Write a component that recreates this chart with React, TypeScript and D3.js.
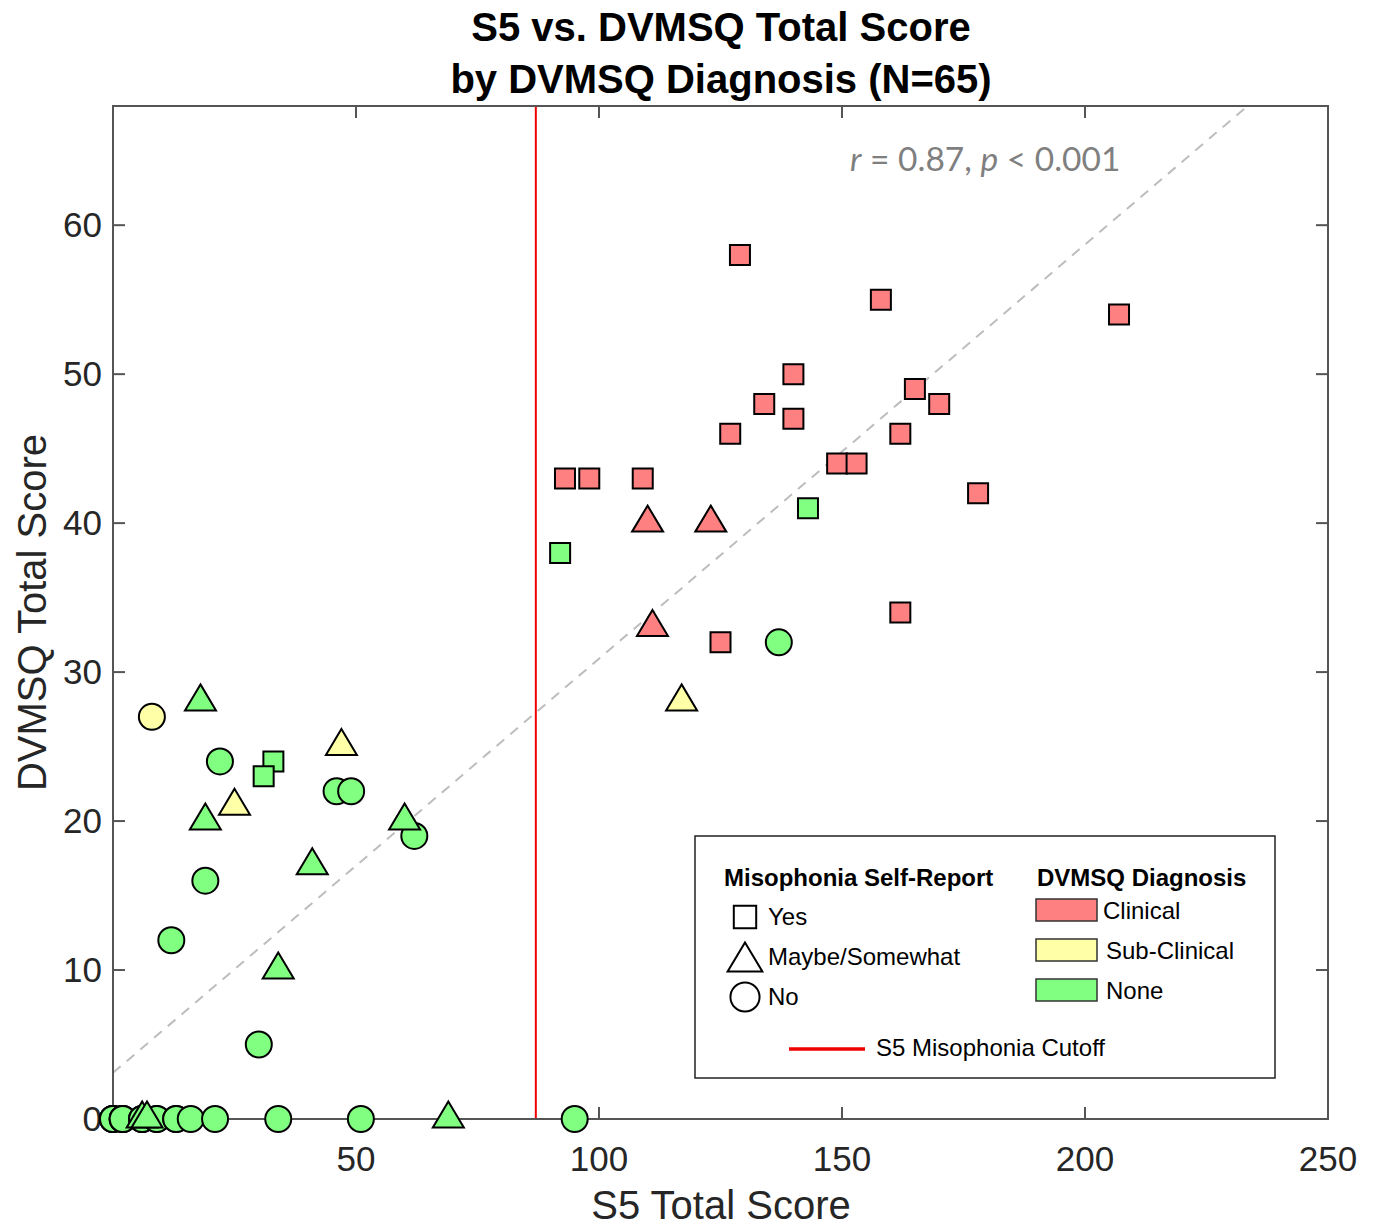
import React from "react";
import * as d3 from "d3";

// ---- Data ----
const s5Score = [
  // Clinical / Yes
  129, 158, 207, 140, 134, 165, 170, 140, 127, 162, 149, 153, 93, 98, 109, 178, 162, 125,
  // Clinical / Maybe
  110, 123, 111,
  // Sub-Clinical / Maybe
  25, 47, 117,
  // Sub-Clinical / No
  8,
  // None / Yes
  143, 92, 33, 31,
  // None / No
  137, 22, 46, 49, 62, 19, 12, 30, 34, 51, 95,
  0, 0, 0, 0, 2, 2, 2, 2, 6, 6, 6, 9, 9, 13, 13, 16, 21,
  // None / Maybe
  18, 19, 41, 34, 60, 69, 6, 7,
];
const dvmsqScore = [
  58, 55, 54, 50, 48, 49, 48, 47, 46, 46, 44, 44, 43, 43, 43, 42, 34, 32,
  40, 40, 33,
  21, 25, 28,
  27,
  41, 38, 24, 23,
  32, 24, 22, 22, 19, 16, 12, 5, 0, 0, 0,
  0, 0, 0, 0, 0, 0, 0, 0, 0, 0, 0, 0, 0, 0, 0, 0, 0,
  28, 20, 17, 10, 20, 0, 0, 0,
];
const selfReport = [
  ...Array(18).fill("Yes"),
  ...Array(3).fill("Maybe"),
  ...Array(3).fill("Maybe"),
  "No",
  ...Array(4).fill("Yes"),
  ...Array(28).fill("No"),
  ...Array(8).fill("Maybe"),
];
const diagnosis = [
  ...Array(21).fill("Clinical"),
  ...Array(4).fill("Sub-Clinical"),
  ...Array(40).fill("None"),
];

const xTicks = [50, 100, 150, 200, 250];
const yTicks = [0, 10, 20, 30, 40, 50, 60];
const xDomain = [0, 250];
const yDomain = [0, 68];
const cutoff = 87;
const regIntercept = 3.1;
const regSlope = 0.278;

const diagColors: Record<string, string> = {
  Clinical: "#FF8080",
  "Sub-Clinical": "#FFFFA8",
  None: "#80FF80",
};
const legendShapes = [
  { key: "Yes", label: "Yes" },
  { key: "Maybe", label: "Maybe/Somewhat" },
  { key: "No", label: "No" },
];
const legendDiag = ["Clinical", "Sub-Clinical", "None"];

const FONT = "'Liberation Sans', Arial, sans-serif";

function markerPath(shape: string, scale = 1): string {
  if (shape === "Yes") {
    const h = 10 * scale;
    return `M${-h},${-h}H${h}V${h}H${-h}Z`;
  }
  if (shape === "Maybe") {
    const w = 15.5 * scale;
    const top = -17.5 * scale;
    const bot = 8.5 * scale;
    return `M0,${top}L${w},${bot}L${-w},${bot}Z`;
  }
  const r = 13 * scale;
  return `M${r},0A${r},${r} 0 1,1 ${-r},0A${r},${r} 0 1,1 ${r},0Z`;
}

export default function App() {
  const left = 113, right = 1328, top = 106, bottom = 1119;
  const x = d3.scaleLinear().domain(xDomain).range([left, right]);
  const y = d3.scaleLinear().domain(yDomain).range([bottom, top]);

  const points = s5Score.map((v, i) => ({
    x: v,
    y: dvmsqScore[i],
    shape: selfReport[i],
    diag: diagnosis[i],
  }));

  const regEndX = (yDomain[1] - regIntercept) / regSlope;
  const regLine = d3.line<[number, number]>()
    .x((d) => x(d[0]))
    .y((d) => y(d[1]));
  const regData: [number, number][] = [
    [0, regIntercept],
    [regEndX, regIntercept + regSlope * regEndX],
  ];

  const axisColor = "#555";
  const textColor = "#262626";
  const tickLen = 12;

  return (
    <svg
      width={1376}
      height={1226}
      style={{ position: "absolute", left: 0, top: 0, background: "#fff" }}
      fontFamily={FONT}
    >
      <rect x={0} y={0} width={1376} height={1226} fill="#fff" />
      {/* Title */}
      <text x={721} y={41} textAnchor="middle" fontSize={40} fontWeight="bold" fill="#000">
        S5 vs. DVMSQ Total Score
      </text>
      <text x={721} y={93} textAnchor="middle" fontSize={40} fontWeight="bold" fill="#000">
        by DVMSQ Diagnosis (N=65)
      </text>

      {/* regression dashed line */}
      <path
        d={regLine(regData) || ""}
        stroke="#bdbdbd"
        strokeWidth={2}
        strokeDasharray="10,8"
        fill="none"
      />

      {/* cutoff line */}
      <line x1={x(cutoff)} x2={x(cutoff)} y1={y(yDomain[0])} y2={y(yDomain[1])} stroke="#EE0000" strokeWidth={2} />

      {/* correlation text */}
      <text x={850} y={171} fontSize={33.5} fill="#7f7f7f" fontFamily="Lato, 'Open Sans', sans-serif">
        <tspan fontStyle="italic">r</tspan>
        <tspan> = 0.87, </tspan>
        <tspan fontStyle="italic">p</tspan>
        <tspan> &lt; 0.001</tspan>
      </text>

      {/* axes box */}
      <rect x={left} y={top} width={right - left} height={bottom - top} fill="none" stroke={axisColor} strokeWidth={2} />
      {xTicks.map((t) => (
        <g key={"xt" + t}>
          <line x1={x(t)} x2={x(t)} y1={bottom} y2={bottom - tickLen} stroke={axisColor} strokeWidth={2} />
          <line x1={x(t)} x2={x(t)} y1={top} y2={top + tickLen} stroke={axisColor} strokeWidth={2} />
          <text x={x(t)} y={1171} textAnchor="middle" fontSize={35} fill={textColor}>
            {t}
          </text>
        </g>
      ))}
      {yTicks.map((t) => (
        <g key={"yt" + t}>
          <line x1={left} x2={left + tickLen} y1={y(t)} y2={y(t)} stroke={axisColor} strokeWidth={2} />
          <line x1={right} x2={right - tickLen} y1={y(t)} y2={y(t)} stroke={axisColor} strokeWidth={2} />
          <text x={102} y={y(t) + 12} textAnchor="end" fontSize={35} fill={textColor}>
            {t}
          </text>
        </g>
      ))}

      {/* axis labels */}
      <text x={721} y={1219} textAnchor="middle" fontSize={40} fill={textColor}>
        S5 Total Score
      </text>
      <text
        transform={`translate(46, ${(top + bottom) / 2}) rotate(-90)`}
        textAnchor="middle"
        fontSize={40}
        fill={textColor}
      >
        DVMSQ Total Score
      </text>

      {/* points */}
      {points.map((p, i) => (
        <path
          key={i}
          d={markerPath(p.shape)}
          transform={`translate(${x(p.x)},${y(p.y)})`}
          fill={diagColors[p.diag]}
          stroke="#000"
          strokeWidth={2}
        />
      ))}

      {/* legend */}
      <g>
        <rect x={695} y={836} width={580} height={242} fill="#fff" stroke="#222" strokeWidth={1.5} />
        <text x={724} y={886} fontSize={24} fontWeight="bold" fill="#000">
          Misophonia Self-Report
        </text>
        <text x={1037} y={886} fontSize={24} fontWeight="bold" fill="#000">
          DVMSQ Diagnosis
        </text>
        {legendShapes.map((s, i) => (
          <g key={s.key}>
            <path
              d={markerPath(s.key, 1.12)}
              transform={`translate(745, ${917 + i * 40 + (s.key === "Maybe" ? 5 : 0)})`}
              fill="none"
              stroke="#000"
              strokeWidth={2}
            />
            <text x={768} y={925 + i * 40} fontSize={24} fill="#000">
              {s.label}
            </text>
          </g>
        ))}
        {legendDiag.map((d, i) => (
          <g key={d}>
            <rect x={1036} y={899 + i * 40} width={61} height={22} fill={diagColors[d]} stroke="#333" strokeWidth={1.5} />
            <text x={i === 0 ? 1103 : 1106} y={919 + i * 40} fontSize={24} fill="#000">
              {d}
            </text>
          </g>
        ))}
        <line x1={789} x2={865} y1={1049} y2={1049} stroke="#EE0000" strokeWidth={3.5} />
        <text x={876} y={1056} fontSize={24} fill="#000">
          S5 Misophonia Cutoff
        </text>
      </g>
    </svg>
  );
}
